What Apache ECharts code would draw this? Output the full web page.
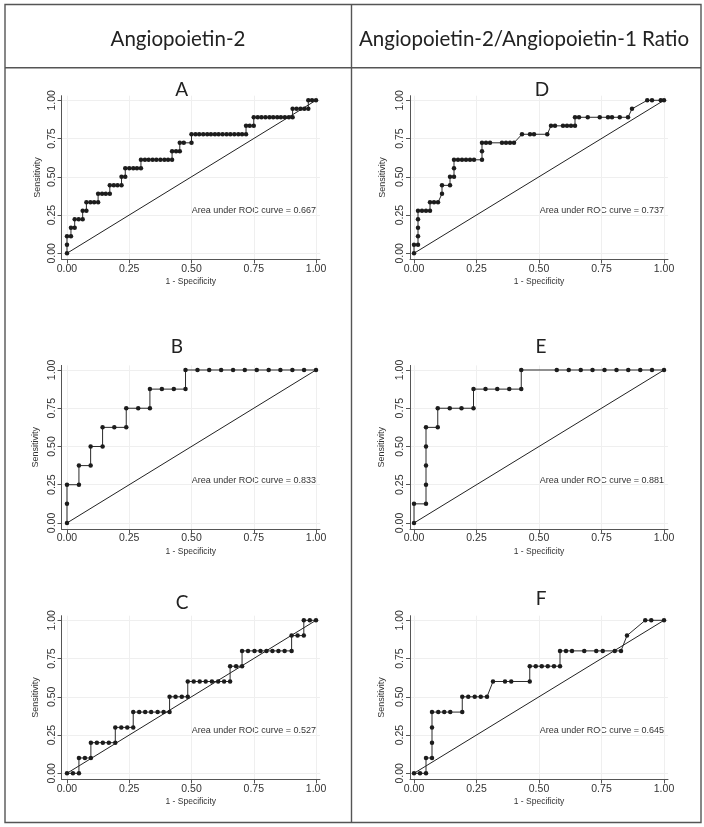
<!DOCTYPE html>
<html><head><meta charset="utf-8">
<script src="https://cdn.jsdelivr.net/npm/echarts@6/dist/echarts.min.js"></script>
<style>html,body{margin:0;padding:0;background:#fff}#c{width:704px;height:827px}</style>
</head><body><div id="c"></div>
<script>
const headers = ['Angiopoietin-2', 'Angiopoietin-2/Angiopoietin-1 Ratio'];
const panelLabels = ['A', 'B', 'C', 'D', 'E', 'F'];
const aucValues = ['0.667', '0.833', '0.527', '0.737', '0.881', '0.645'];
const tickValues = [0, 0.25, 0.5, 0.75, 1];
const diagonal = [[0, 0], [1, 1]];

const rocA = [[0,0],[0,0.056],[0,0.111],[0.016,0.111],[0.016,0.167],[0.031,0.167],[0.031,0.222],[0.047,0.222],[0.063,0.222],[0.063,0.278],[0.078,0.278],[0.078,0.333],[0.094,0.333],[0.109,0.333],[0.125,0.333],[0.125,0.389],[0.141,0.389],[0.156,0.389],[0.172,0.389],[0.172,0.444],[0.188,0.444],[0.203,0.444],[0.219,0.444],[0.219,0.5],[0.234,0.5],[0.234,0.556],[0.25,0.556],[0.266,0.556],[0.281,0.556],[0.297,0.556],[0.297,0.611],[0.313,0.611],[0.328,0.611],[0.344,0.611],[0.359,0.611],[0.375,0.611],[0.391,0.611],[0.406,0.611],[0.422,0.611],[0.422,0.667],[0.438,0.667],[0.453,0.667],[0.453,0.722],[0.469,0.722],[0.5,0.722],[0.5,0.778],[0.516,0.778],[0.531,0.778],[0.547,0.778],[0.563,0.778],[0.578,0.778],[0.594,0.778],[0.609,0.778],[0.625,0.778],[0.641,0.778],[0.656,0.778],[0.672,0.778],[0.688,0.778],[0.703,0.778],[0.719,0.778],[0.719,0.833],[0.734,0.833],[0.75,0.833],[0.75,0.889],[0.766,0.889],[0.781,0.889],[0.797,0.889],[0.813,0.889],[0.828,0.889],[0.844,0.889],[0.859,0.889],[0.875,0.889],[0.891,0.889],[0.906,0.889],[0.906,0.944],[0.922,0.944],[0.938,0.944],[0.953,0.944],[0.969,0.944],[0.969,1],[0.984,1],[1,1]];

const rocB = [[0,0],[0,0.125],[0,0.25],[0.048,0.25],[0.048,0.375],[0.095,0.375],[0.095,0.5],[0.143,0.5],[0.143,0.625],[0.19,0.625],[0.238,0.625],[0.238,0.75],[0.286,0.75],[0.333,0.75],[0.333,0.875],[0.381,0.875],[0.429,0.875],[0.476,0.875],[0.476,1],[0.524,1],[0.571,1],[0.619,1],[0.667,1],[0.714,1],[0.762,1],[0.81,1],[0.857,1],[0.905,1],[0.952,1],[1,1]];

const rocC = [[0,0],[0.024,0],[0.048,0],[0.048,0.1],[0.072,0.1],[0.096,0.1],[0.096,0.2],[0.12,0.2],[0.144,0.2],[0.168,0.2],[0.194,0.2],[0.194,0.3],[0.218,0.3],[0.242,0.3],[0.266,0.3],[0.266,0.4],[0.29,0.4],[0.314,0.4],[0.338,0.4],[0.364,0.4],[0.388,0.4],[0.412,0.4],[0.412,0.5],[0.436,0.5],[0.461,0.5],[0.485,0.5],[0.485,0.6],[0.509,0.6],[0.533,0.6],[0.557,0.6],[0.582,0.6],[0.607,0.6],[0.631,0.6],[0.655,0.6],[0.655,0.7],[0.679,0.7],[0.703,0.7],[0.703,0.8],[0.727,0.8],[0.753,0.8],[0.777,0.8],[0.801,0.8],[0.825,0.8],[0.849,0.8],[0.874,0.8],[0.902,0.8],[0.902,0.9],[0.926,0.9],[0.951,0.9],[0.951,1],[0.975,1],[1,1]];

const rocD = [[0,0],[0,0.056],[0.016,0.056],[0.016,0.111],[0.016,0.167],[0.016,0.222],[0.016,0.278],[0.032,0.278],[0.048,0.278],[0.064,0.278],[0.064,0.333],[0.08,0.333],[0.096,0.333],[0.112,0.389],[0.112,0.444],[0.144,0.444],[0.144,0.5],[0.16,0.5],[0.16,0.556],[0.16,0.611],[0.176,0.611],[0.192,0.611],[0.208,0.611],[0.224,0.611],[0.24,0.611],[0.272,0.611],[0.272,0.667],[0.272,0.722],[0.288,0.722],[0.304,0.722],[0.352,0.722],[0.368,0.722],[0.384,0.722],[0.4,0.722],[0.432,0.778],[0.464,0.778],[0.48,0.778],[0.533,0.778],[0.548,0.833],[0.564,0.833],[0.596,0.833],[0.612,0.833],[0.628,0.833],[0.644,0.833],[0.644,0.889],[0.66,0.889],[0.695,0.889],[0.743,0.889],[0.776,0.889],[0.792,0.889],[0.823,0.889],[0.856,0.889],[0.872,0.944],[0.933,1],[0.952,1],[0.987,1],[1,1]];

const rocE = [[0,0],[0,0.125],[0.048,0.125],[0.048,0.25],[0.048,0.375],[0.048,0.5],[0.048,0.625],[0.095,0.625],[0.095,0.75],[0.143,0.75],[0.19,0.75],[0.238,0.75],[0.238,0.875],[0.286,0.875],[0.333,0.875],[0.381,0.875],[0.429,0.875],[0.429,1],[0.571,1],[0.619,1],[0.667,1],[0.714,1],[0.762,1],[0.81,1],[0.857,1],[0.905,1],[0.952,1],[1,1]];

const rocF = [[0,0],[0.024,0],[0.048,0],[0.048,0.1],[0.072,0.1],[0.072,0.2],[0.072,0.3],[0.072,0.4],[0.097,0.4],[0.121,0.4],[0.145,0.4],[0.193,0.4],[0.193,0.5],[0.217,0.5],[0.243,0.5],[0.267,0.5],[0.292,0.5],[0.316,0.6],[0.364,0.6],[0.389,0.6],[0.463,0.6],[0.463,0.7],[0.487,0.7],[0.511,0.7],[0.535,0.7],[0.56,0.7],[0.584,0.7],[0.584,0.8],[0.608,0.8],[0.632,0.8],[0.681,0.8],[0.729,0.8],[0.755,0.8],[0.803,0.8],[0.828,0.8],[0.852,0.9],[0.925,1],[0.949,1],[1,1]];

const curves = [rocA, rocB, rocC, rocD, rocE, rocF];

// layout (pixels)
const layout = [
  {left: 61.5, top: 95.7, width: 258.5, xmin: -0.022, lx: 181.7, ly: 90, yGap: 19},
  {left: 61.5, top: 365.4, width: 258.5, xmin: -0.022, lx: 177, ly: 347, yGap: 21},
  {left: 61.5, top: 615.7, width: 258.5, xmin: -0.022, lx: 182, ly: 603, yGap: 21},
  {left: 410, top: 95.7, width: 258, xmin: -0.016, lx: 542, ly: 90, yGap: 23},
  {left: 410, top: 365.4, width: 258, xmin: -0.016, lx: 541, ly: 347, yGap: 24},
  {left: 410, top: 615.7, width: 258, xmin: -0.016, lx: 541, ly: 599, yGap: 24}
];
const H = 163.7;
const axisColor = '#555';
const textColor = '#333';
const sansFont = 'Liberation Sans, Arial, sans-serif';
const titleFont = 'Lato, "Open Sans", sans-serif';

const grids = [], xAxes = [], yAxes = [], series = [];
layout.forEach((L, i) => {
  grids.push({left: L.left, top: L.top, width: L.width, height: H});
  xAxes.push({
    gridIndex: i, type: 'value', min: L.xmin, max: 1.016,
    axisLine: {show: true, onZero: false, lineStyle: {color: axisColor, width: 1}},
    axisTick: {show: true, length: 4, customValues: tickValues, lineStyle: {color: axisColor}},
    axisLabel: {customValues: tickValues, formatter: v => v.toFixed(2), fontSize: 10.5, color: textColor, margin: 4, fontFamily: sansFont},
    splitLine: {show: true, lineStyle: {color: '#efefef', width: 1}},
    name: '1 - Specificity', nameLocation: 'middle', nameGap: 18,
    nameTextStyle: {fontSize: 8.5, color: textColor, fontFamily: sansFont}
  });
  yAxes.push({
    gridIndex: i, type: 'value', min: -0.04, max: 1.03,
    axisLine: {show: true, onZero: false, lineStyle: {color: axisColor, width: 1}},
    axisTick: {show: true, length: 4, customValues: tickValues, lineStyle: {color: axisColor}},
    axisLabel: {customValues: tickValues, formatter: v => v.toFixed(2), fontSize: 10.5, color: textColor, margin: 4, rotate: 90, fontFamily: sansFont},
    splitLine: {show: true, lineStyle: {color: '#efefef', width: 1}},
    name: 'Sensitivity', nameLocation: 'middle', nameGap: L.yGap,
    nameTextStyle: {fontSize: 9, color: textColor, fontFamily: sansFont}
  });
  series.push({
    type: 'line', xAxisIndex: i, yAxisIndex: i, data: diagonal, showSymbol: false,
    lineStyle: {color: '#222', width: 1}, silent: true, animation: false, z: 2
  });
  series.push({
    type: 'line', xAxisIndex: i, yAxisIndex: i, data: curves[i], clip: false,
    symbol: 'circle', symbolSize: 4.5, showAllSymbol: true,
    itemStyle: {color: '#1c1c1c'}, lineStyle: {color: '#2a2a2a', width: 1},
    silent: true, animation: false, z: 3
  });
});

const graphics = [
  {type: 'rect', shape: {x: 5, y: 4.5, width: 696, height: 818}, style: {fill: 'none', stroke: '#555', lineWidth: 1.4}},
  {type: 'line', shape: {x1: 5, y1: 67.7, x2: 701, y2: 67.7}, style: {stroke: '#555', lineWidth: 1.4}},
  {type: 'line', shape: {x1: 351.5, y1: 4.5, x2: 351.5, y2: 822.5}, style: {stroke: '#555', lineWidth: 1.4}},
  {type: 'text', x: 178, y: 39, style: {text: headers[0], font: '20.5px ' + titleFont, fill: '#222', textAlign: 'center', textVerticalAlign: 'middle'}},
  {type: 'text', x: 524, y: 39, style: {text: headers[1], font: '20.5px ' + titleFont, fill: '#222', textAlign: 'center', textVerticalAlign: 'middle'}}
];
layout.forEach((L, i) => {
  graphics.push({type: 'text', x: L.lx, y: L.ly, style: {text: panelLabels[i], font: '19px ' + titleFont, fill: '#222', textAlign: 'center', textVerticalAlign: 'middle'}});
});

const chart = echarts.init(document.getElementById('c'), null, {renderer: 'canvas'});
chart.setOption({
  animation: false,
  backgroundColor: '#fff',
  grid: grids, xAxis: xAxes, yAxis: yAxes, series: series,
  graphic: graphics
});

// AUC annotations placed through the axes' scales
layout.forEach((L, i) => {
  const p = chart.convertToPixel({gridIndex: i}, [1.0, 0.28]);
  graphics.push({type: 'text', x: p[0], y: p[1], style: {text: 'Area under ROC curve = ' + aucValues[i], font: '9px ' + sansFont, fill: textColor, textAlign: 'right', textVerticalAlign: 'middle'}});
});
chart.setOption({graphic: graphics});
</script>
</body></html>
